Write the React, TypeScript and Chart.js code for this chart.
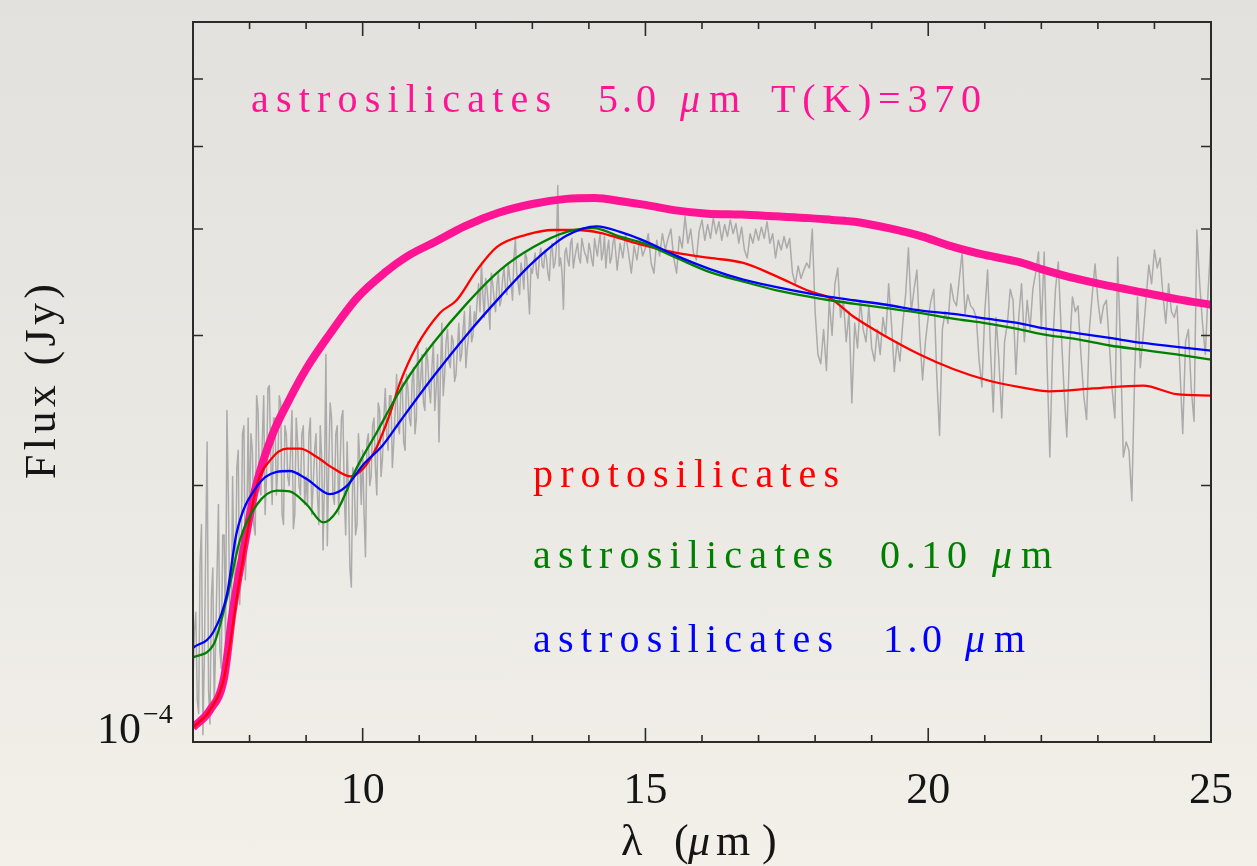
import React, { useEffect, useRef } from "react";
import { Chart, registerables } from "chart.js";

Chart.register(...registerables);

// Flux values are stored in units of 1e-4 Jy.
const FLUX_UNIT = 1e-4;

// Observed spectrum, coarse grid: every 0.05 µm from 7.00 to 25.00 µm.
const SPEC_START = 7.0;
const SPEC_STEP = 0.05;
const SPEC_FLUX = [
  // 7.00 – 7.95
  1.18, 1.42, 1.08, 1.8, 1.25, 2.25, 1.05, 1.6, 1.3, 1.9, 1.22, 1.75, 2.45, 1.4, 2.05, 1.5, 2.2, 1.6, 2.35, 1.72,
  // 8.00 – 8.95
  1.85, 2.2, 1.75, 2.45, 1.95, 2.55, 2.05, 2.62, 1.9, 2.4, 2.1, 2.5, 1.8, 2.3, 2.0, 2.45, 1.85, 2.25, 1.95, 2.35,
  // 9.00 – 9.95
  2.05, 2.3, 1.85, 2.2, 1.95, 2.35, 1.68, 2.85, 2.1, 2.4, 1.9, 2.35, 2.1, 2.45, 1.75, 1.95, 1.52, 2.05, 1.8, 2.15,
  // 10.00 – 10.95
  2.2, 1.65, 2.3, 2.05, 2.4, 1.95, 2.45, 2.15, 2.6, 2.2, 2.55, 2.25, 2.7, 2.3, 2.65, 2.2, 2.6, 2.35, 2.75, 2.4,
  // 11.00 – 11.95
  2.55, 2.85, 2.45, 2.8, 2.5, 2.95, 2.6, 2.25, 3.1, 2.7, 3.05, 2.75, 2.95, 2.7, 3.1, 2.85, 3.2, 2.9, 3.25, 3.0,
  // 12.00 – 12.95
  3.1, 3.45, 3.65, 3.15, 3.4, 3.05, 3.45, 3.2, 3.55, 3.3, 3.6, 3.35, 3.5, 3.3, 3.9, 3.45, 3.65, 3.4, 3.7, 3.18,
  // 13.00 – 13.95
  3.55, 3.75, 3.5, 3.8, 3.6, 3.7, 3.48, 3.85, 3.65, 4.5, 3.7, 3.22, 3.8, 3.62, 3.9, 3.7, 3.85, 3.65, 3.82, 3.72,
  // 14.00 – 14.95
  3.85, 3.68, 3.9, 3.72, 3.95, 3.75, 3.6, 3.88, 3.7, 3.92, 3.58, 3.85, 3.7, 3.95, 3.75, 3.55, 3.82, 3.68, 3.9, 3.72,
  // 15.00 – 15.95
  3.8, 3.95, 3.65, 3.55, 3.88, 3.72, 3.95, 3.78, 3.9, 4.0, 3.7, 3.55, 3.92, 3.8, 4.14, 3.85, 4.0, 3.75, 3.68, 3.98,
  // 16.00 – 16.95
  4.1, 3.88, 4.05, 3.9, 4.12, 3.95, 4.08, 3.88, 4.05, 3.92, 4.1, 3.95, 4.06, 3.85, 4.02, 3.78, 3.7, 3.95, 3.85, 4.0,
  // 17.00 – 17.95
  3.88, 4.02, 3.9, 4.08, 3.85, 3.95, 3.7, 3.88, 3.78, 3.92, 3.8, 3.9, 3.55, 3.45, 3.62, 3.5, 3.58, 3.65, 3.6, 4.0,
  // 18.00 – 18.95
  3.2, 2.85, 2.78, 3.05, 2.73, 3.3, 3.0, 3.45, 3.6, 3.15, 3.3, 2.95, 3.2, 2.5, 3.1, 2.9, 3.3, 3.05, 2.95, 3.25,
  // 19.00 – 19.95
  2.9, 2.8, 3.05, 2.85, 3.15, 3.0, 3.45, 3.1, 2.72, 2.95, 2.8, 3.1, 3.35, 3.8, 3.2, 3.4, 3.58, 3.0, 2.66, 2.95,
  // 20.00 – 20.95
  3.15, 3.3, 3.4, 2.7, 2.29, 3.05, 3.2, 3.1, 3.45, 3.3, 3.25, 3.5, 3.76, 3.18, 3.35, 3.25, 3.22, 3.15, 2.8, 2.61,
  // 21.00 – 21.95
  3.2, 3.58, 2.9, 2.44, 3.15, 2.8, 2.4, 2.95, 3.1, 3.4, 3.3, 2.7, 3.15, 3.45, 2.95, 3.3, 3.05, 3.4, 3.55, 3.76,
  // 22.00 – 22.95
  3.05, 3.76, 2.8, 2.16, 2.9, 3.4, 3.66, 3.05, 2.6, 2.28, 2.9, 3.33, 3.2, 3.25, 2.85, 2.55, 2.39, 3.05, 3.35, 3.64,
  // 23.00 – 23.95
  3.3, 3.1, 3.25, 3.3, 2.95, 2.6, 2.4, 3.71, 2.9, 2.16, 2.25, 2.2, 1.92, 2.7, 3.33, 2.75, 3.0, 3.3, 3.63, 3.45,
  // 24.00 – 25.00
  3.78, 3.6, 3.7, 3.35, 3.1, 3.45, 3.2, 3.15, 3.25, 2.75, 2.3, 2.95, 3.05, 2.6, 2.38, 3.99, 3.45, 3.1, 2.85, 3.4,
  3.88,
];

// Observed spectrum, extra samples halfway between the coarse ones (7.025 – 14.475 µm),
// where the detector sampling is denser.
const FINE_START = 7.025;
const FINE_STEP = 0.05;
const FINE_FLUX = [
  // 7.025 – 7.975
  1.35, 1.12, 1.62, 1.02, 1.7, 1.15, 1.48, 1.1, 1.58, 1.28, 1.75, 1.3, 1.95, 1.35, 1.58, 2.1, 1.45, 2.3, 1.55, 2.4,
  // 8.025 – 8.975
  2.3, 1.8, 2.55, 2.0, 2.25, 1.85, 2.6, 2.15, 2.4, 1.95, 2.55, 1.85, 2.35, 2.05, 2.2, 1.78, 2.4, 2.0, 2.3, 1.9,
  // 9.025 – 9.975
  1.9, 2.4, 2.0, 2.3, 1.8, 2.15, 2.05, 1.7, 2.5, 1.95, 2.3, 1.85, 2.4, 1.95, 2.25, 1.6, 2.1, 1.75, 2.3, 1.9,
  // 10.025 – 10.975
  1.85, 2.25, 2.0, 2.35, 2.1, 2.5, 2.05, 2.4, 2.3, 2.55, 2.1, 2.45, 2.35, 2.6, 2.25, 2.7, 2.4, 2.65, 2.3, 2.95,
  // 11.025 – 11.975
  2.65, 2.5, 2.9, 2.6, 2.75, 2.45, 2.85, 2.7, 2.55, 2.95, 2.8, 3.0, 2.65, 2.9, 2.8, 3.05, 2.75, 3.0, 2.95, 3.2,
  // 12.025 – 12.975
  3.3, 3.2, 3.35, 3.5, 3.25, 3.55, 3.3, 3.45, 3.25, 3.5, 3.4, 3.65, 3.45, 3.7, 3.55, 3.35, 3.55, 3.75, 3.4, 3.6,
  // 13.025 – 13.975
  3.65, 3.55, 3.72, 3.62, 3.78, 3.55, 3.75, 3.6, 3.8, 3.62, 3.55, 3.75, 3.68, 3.85, 3.6, 3.78, 3.7, 3.9, 3.75, 3.65,
  // 14.025 – 14.475
  3.78, 3.62, 3.8, 3.85, 3.68, 3.92, 3.78, 3.65, 3.85, 3.75,
];

// Model: astrosilicates, 5.0 µm grains, T = 370 K
const ASTRO50_WAVE = [
  7.0, 7.3, 7.55, 7.7, 7.9, 8.1, 8.4, 8.7, 9.0, 9.4, 9.9, 10.4, 10.8, 11.3, 11.8, 12.4, 13.0, 13.6, 14.1, 14.6,
  15.0, 15.5, 16.1, 16.7, 17.3, 17.9, 18.3, 18.7, 19.3, 19.9, 20.4, 21.0, 21.6, 22.0, 22.6, 23.2, 23.8, 24.4, 25.0,
];
const ASTRO50_FLUX = [
  1.04, 1.09, 1.19, 1.42, 1.69, 1.98, 2.29, 2.52, 2.74, 3.0, 3.32, 3.56, 3.72, 3.87, 4.03, 4.18, 4.28, 4.34, 4.35,
  4.31, 4.27, 4.21, 4.17, 4.16, 4.14, 4.12, 4.1, 4.08, 4.01, 3.92, 3.82, 3.73, 3.66, 3.59, 3.5, 3.43, 3.37, 3.31, 3.26,
];

// Model: protosilicates
const PROTO_WAVE = [
  7.0, 7.3, 7.55, 7.83, 8.13, 8.36, 8.66, 8.89, 9.19, 9.48, 9.78, 10.01, 10.25, 10.48, 10.66, 10.95, 11.37, 11.66,
  12.02, 12.37, 12.9, 13.37, 13.78, 14.2, 14.55, 14.96, 15.55, 16.14, 16.73, 17.32, 17.91, 18.26, 18.67, 19.26,
  19.85, 20.44, 21.03, 21.62, 22.15, 22.92, 23.8, 24.39, 25.0,
];
const PROTO_FLUX = [
  1.04, 1.09, 1.19, 1.56, 2.0, 2.14, 2.21, 2.21, 2.16, 2.095, 2.05, 2.095, 2.22, 2.425, 2.64, 2.91, 3.19, 3.3, 3.58,
  3.81, 3.94, 3.99, 3.99, 3.96, 3.9, 3.83, 3.75, 3.7, 3.65, 3.52, 3.38, 3.32, 3.16, 2.99, 2.85, 2.74, 2.66, 2.61,
  2.58, 2.6, 2.62, 2.56, 2.55,
];

// Model: astrosilicates, 0.10 µm grains
const ASTRO010_WAVE = [
  7.0, 7.36, 7.6, 7.83, 8.13, 8.48, 8.71, 9.01, 9.3, 9.54, 9.89, 10.25, 10.6, 10.84, 11.25, 11.84, 12.43, 13.02,
  13.61, 14.08, 14.55, 14.96, 15.55, 16.14, 16.73, 17.32, 17.91, 18.26, 18.67, 19.26, 19.85, 20.44, 21.03, 21.62,
  22.03, 22.62, 23.21, 23.8, 24.39, 25.0,
];
const ASTRO010_FLUX = [
  1.257, 1.3, 1.476, 1.725, 1.9, 1.973, 1.968, 1.9, 1.81, 1.865, 2.095, 2.31, 2.546, 2.7, 2.94, 3.27, 3.58, 3.81,
  3.97, 4.01, 3.92, 3.85, 3.7, 3.56, 3.47, 3.39, 3.33, 3.3, 3.27, 3.23, 3.19, 3.14, 3.1, 3.05, 3.01, 2.97, 2.92,
  2.885, 2.85, 2.81,
];

// Model: astrosilicates, 1.0 µm grains
const ASTRO10_WAVE = [
  7.0, 7.36, 7.6, 7.77, 8.13, 8.48, 8.71, 9.01, 9.42, 9.71, 10.01, 10.36, 10.66, 11.25, 11.84, 12.43, 13.02, 13.61,
  14.14, 14.55, 14.96, 15.55, 16.14, 16.73, 17.32, 17.91, 18.26, 18.67, 19.26, 19.85, 20.44, 21.03, 21.62, 22.03,
  22.62, 23.21, 23.8, 24.39, 25.0,
];
const ASTRO10_FLUX = [
  1.29, 1.346, 1.49, 1.758, 1.995, 2.075, 2.08, 2.035, 1.954, 1.995, 2.116, 2.232, 2.378, 2.685, 3.005, 3.33, 3.66,
  3.93, 4.03, 3.97, 3.88, 3.72, 3.59, 3.49, 3.42, 3.36, 3.33, 3.3, 3.26, 3.21, 3.18, 3.14, 3.1, 3.06, 3.02, 2.98,
  2.94, 2.91, 2.88,
];

const X_MIN = 7;
const X_MAX = 25;
const Y_MIN = 1e-4;
const Y_MAX = 7e-4;
const X_LABEL_TICKS = [10, 15, 20, 25];
const Y_MINOR_TICKS = [2, 3, 4, 5, 6];

const COLORS = {
  spectrum: "#ababab",
  astro50: "#ff1493",
  proto: "#ff0000",
  astro010: "#008000",
  astro10: "#0000ff",
  axis: "#2b2b2b",
  text: "#151515",
};

const SERIF = '"Liberation Serif", "DejaVu Serif", serif';

const toPoints = (xs: number[], ys: number[]) =>
  xs.map((x, i) => ({ x, y: ys[i] * FLUX_UNIT }));

const spectrumPoints = [
  ...SPEC_FLUX.map((v, i) => ({ x: +(SPEC_START + i * SPEC_STEP).toFixed(3), y: v * FLUX_UNIT })),
  ...FINE_FLUX.map((v, i) => ({ x: +(FINE_START + i * FINE_STEP).toFixed(3), y: v * FLUX_UNIT })),
].sort((p, q) => p.x - q.x);

// Draw text character by character, spread evenly between x0 and x1.
function fitText(ctx: CanvasRenderingContext2D, text: string, x0: number, x1: number | null, y: number) {
  const chars = Array.from(text);
  const widths = chars.map((c) => ctx.measureText(c).width);
  const natural = widths.reduce((s, w) => s + w, 0);
  const gap = x1 !== null && chars.length > 1 ? (x1 - x0 - natural) / (chars.length - 1) : 0;
  ctx.textAlign = "left";
  let cx = x0;
  chars.forEach((c, i) => {
    ctx.fillText(c, cx, y);
    cx += widths[i] + gap;
  });
}

type Run = { text: string; x0: number; x1?: number; italic?: boolean };

function drawRuns(ctx: CanvasRenderingContext2D, runs: Run[], y: number, size: number, color: string) {
  ctx.fillStyle = color;
  ctx.textBaseline = "alphabetic";
  runs.forEach((r) => {
    ctx.font = `${r.italic ? "italic " : ""}${size}px ${SERIF}`;
    fitText(ctx, r.text, r.x0, r.x1 ?? null, y);
  });
}

const framePlugin = {
  id: "frameAndLabels",
  afterDraw(chart: any) {
    const { ctx, chartArea: a, scales } = chart;
    const xs = scales.x;
    const ys = scales.y;
    ctx.save();

    // Frame
    ctx.strokeStyle = COLORS.axis;
    ctx.lineWidth = 2;
    ctx.strokeRect(a.left, a.top, a.right - a.left, a.bottom - a.top);

    // Inward ticks on x (bottom and top)
    ctx.lineWidth = 1.6;
    ctx.beginPath();
    for (let v = X_MIN + 1; v < X_MAX; v++) {
      const px = xs.getPixelForValue(v);
      const len = v % 5 === 0 ? 14 : 7;
      ctx.moveTo(px, a.bottom);
      ctx.lineTo(px, a.bottom - len);
      ctx.moveTo(px, a.top);
      ctx.lineTo(px, a.top + len);
    }
    // Inward ticks on y (left and right)
    Y_MINOR_TICKS.forEach((m) => {
      const py = ys.getPixelForValue(m * FLUX_UNIT);
      ctx.moveTo(a.left, py);
      ctx.lineTo(a.left + 10, py);
      ctx.moveTo(a.right, py);
      ctx.lineTo(a.right - 10, py);
    });
    ctx.stroke();

    // x tick labels
    ctx.fillStyle = COLORS.text;
    ctx.textBaseline = "alphabetic";
    ctx.font = `44px ${SERIF}`;
    ctx.textAlign = "center";
    X_LABEL_TICKS.forEach((v) => {
      ctx.fillText(String(v), xs.getPixelForValue(v), 803);
    });

    // y tick label 10^-4
    const yb = ys.getPixelForValue(Y_MIN);
    ctx.textAlign = "right";
    ctx.fillText("10", 141, yb + 1);
    ctx.font = `28px ${SERIF}`;
    ctx.textAlign = "left";
    ctx.fillText("\u22124", 143, yb - 19);

    // x axis title: λ (µm)
    drawRuns(
      ctx,
      [
        { text: "\u03bb", x0: 621 },
        { text: "(", x0: 674 },
        { text: "\u03bc", x0: 688, italic: true },
        { text: "m", x0: 716 },
        { text: ")", x0: 762 },
      ],
      855,
      44,
      COLORS.text
    );

    // y axis title
    ctx.save();
    ctx.translate(55, (a.top + a.bottom) / 2);
    ctx.rotate(-Math.PI / 2);
    ctx.fillStyle = COLORS.text;
    ctx.font = `44px ${SERIF}`;
    fitText(ctx, "Flux (Jy)", -97, 98, 0);
    ctx.restore();

    // Model annotations
    const size = 40;
    drawRuns(
      ctx,
      [
        { text: "astrosilicates", x0: 251, x1: 551 },
        { text: "5.0", x0: 598, x1: 656 },
        { text: "\u03bc", x0: 680, italic: true },
        { text: "m", x0: 709 },
        { text: "T(K)=370", x0: 771, x1: 981 },
      ],
      112,
      size,
      COLORS.astro50
    );
    drawRuns(ctx, [{ text: "protosilicates", x0: 533, x1: 839 }], 487, size, COLORS.proto);
    drawRuns(
      ctx,
      [
        { text: "astrosilicates", x0: 533, x1: 833 },
        { text: "0.10", x0: 880, x1: 967 },
        { text: "\u03bc", x0: 992, italic: true },
        { text: "m", x0: 1021 },
      ],
      568,
      size,
      COLORS.astro010
    );
    drawRuns(
      ctx,
      [
        { text: "astrosilicates", x0: 533, x1: 833 },
        { text: "1.0", x0: 883, x1: 942 },
        { text: "\u03bc", x0: 965, italic: true },
        { text: "m", x0: 994 },
      ],
      652,
      size,
      COLORS.astro10
    );

    ctx.restore();
  },
};

export default function App() {
  const canvasRef = useRef<HTMLCanvasElement>(null);

  useEffect(() => {
    document.body.style.margin = "0";
    const canvas = canvasRef.current;
    if (!canvas) return;
    const line = (data: any[], color: string, width: number, order: number, smooth: boolean) => ({
      data,
      borderColor: color,
      backgroundColor: color,
      borderWidth: width,
      pointRadius: 0,
      fill: false,
      order,
      tension: smooth ? 0.4 : 0,
      cubicInterpolationMode: smooth ? ("monotone" as const) : ("default" as const),
      borderJoinStyle: "round" as const,
    });
    const chart = new Chart(canvas, {
      type: "line",
      data: {
        datasets: [
          line(spectrumPoints, COLORS.spectrum, 1.5, 5, false),
          line(toPoints(ASTRO50_WAVE, ASTRO50_FLUX), COLORS.astro50, 8, 4, true),
          line(toPoints(PROTO_WAVE, PROTO_FLUX), COLORS.proto, 2.3, 3, true),
          line(toPoints(ASTRO010_WAVE, ASTRO010_FLUX), COLORS.astro010, 2.3, 2, true),
          line(toPoints(ASTRO10_WAVE, ASTRO10_FLUX), COLORS.astro10, 2.3, 1, true),
        ] as any,
      },
      options: {
        animation: false,
        responsive: false,
        devicePixelRatio: 1,
        layout: { padding: { left: 193, right: 46, top: 22, bottom: 124 } },
        plugins: { legend: { display: false }, tooltip: { enabled: false } },
        scales: {
          x: { type: "linear", min: X_MIN, max: X_MAX, display: false },
          y: { type: "logarithmic", min: Y_MIN, max: Y_MAX, display: false },
        },
      },
      plugins: [framePlugin],
    });
    return () => chart.destroy();
  }, []);

  return (
    <div
      style={{
        position: "fixed",
        left: 0,
        top: 0,
        width: 1257,
        height: 866,
        background: "linear-gradient(180deg, #e2e1dd 0%, #e9e7e2 45%, #f3f0ea 100%)",
      }}
    >
      <canvas ref={canvasRef} width={1257} height={866} style={{ display: "block" }} />
    </div>
  );
}
